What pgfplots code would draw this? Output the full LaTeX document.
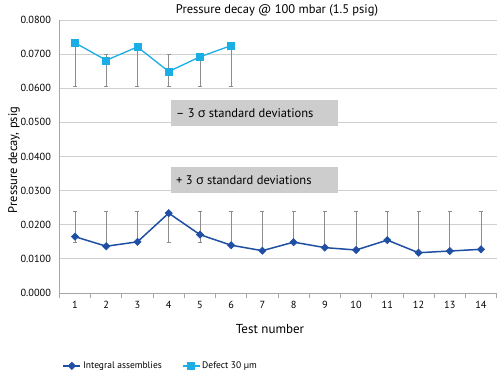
\documentclass[border=0pt]{standalone}
\usepackage{fontspec}
\setmainfont{PT Sans}
\newfontfamily\grk{Open Sans}
\usepackage{pgfplots}
\pgfplotsset{compat=1.18}
\definecolor{intc}{HTML}{1F4FA3}
\definecolor{defc}{HTML}{1AAEE5}
\definecolor{gridc}{HTML}{CFCFCF}
\definecolor{axc}{HTML}{A6A6A6}
\definecolor{errc}{HTML}{8C8C8C}
\definecolor{boxc}{HTML}{CDCDCD}
\pgfplotstableread{
x y ep em
1 0.0165 0.0073 0.0018
2 0.0137 0.0101 0
3 0.0150 0.0088 0
4 0.0234 0.0004 0.0087
5 0.0171 0.0067 0.0023
6 0.0140 0.0098 0
7 0.0124 0.0114 0
8 0.0149 0.0089 0
9 0.0133 0.0105 0
10 0.0126 0.0112 0
11 0.0155 0.0083 0
12 0.0118 0.0120 0
13 0.0123 0.0115 0
14 0.0128 0.0110 0
}\integral
\pgfplotstableread{
x y ep em
1 0.0733 0 0.0127
2 0.0682 0.0018 0.0076
3 0.0721 0 0.0115
4 0.0649 0.0051 0.0043
5 0.0692 0.0008 0.0086
6 0.0725 0 0.0119
}\defect
\begin{document}
\begin{tikzpicture}[x=1pt,y=1pt]
\path[use as bounding box] (0,0) rectangle (500,374);
\begin{axis}[at={(59.4pt,81pt)}, anchor=south west, scale only axis,
  width=437.2pt, height=273pt,
  xmin=0.5, xmax=14.5, ymin=0, ymax=0.08,
  axis x line*=bottom, axis y line*=left,
  axis line style={axc, line width=0.8pt},
  xtick={1,...,14}, major x tick style={draw=none},
  minor xtick={0.5,1.5,...,14.5},
  minor x tick style={axc, line width=0.8pt},
  tick align=outside, minor tick length=5pt, major tick length=5pt,
  ytick={0,0.01,0.02,0.03,0.04,0.05,0.06,0.07,0.08},
  y tick style={draw=none},
  scaled y ticks=false,
  ymajorgrids, grid style={gridc, line width=0.8pt},
  yticklabel style={/pgf/number format/.cd, fixed, fixed zerofill, precision=4, assume math mode=true},
  xticklabel style={/pgf/number format/assume math mode=true},
  tick label style={font=\fontsize{10.3}{12}\selectfont},
  legend style={at={(0,-0.267)}, anchor=west, draw=none, fill=none,
    legend columns=2, font=\fontsize{9.5}{11}\selectfont,
    /tikz/every even column/.append style={column sep=18pt}},
]
\addplot[color=intc, line width=1.5pt, mark=square*, mark size=2.6pt,
  mark options={fill=intc, solid, rotate=45, line width=0.5pt},
  error bars/.cd, y dir=both, y explicit,
  error bar style={errc, line width=0.8pt},
  error mark options={errc, rotate=90, mark size=2pt, line width=0.8pt}]
  table[x=x, y=y, y error plus=ep, y error minus=em] {\integral};
\addlegendentry{Integral assemblies}
\addplot[color=defc, line width=1.3pt, mark=square*, mark size=3.5pt,
  mark options={fill=defc, solid, line width=0.5pt},
  error bars/.cd, y dir=both, y explicit,
  error bar style={errc, line width=0.8pt},
  error mark options={errc, rotate=90, mark size=2pt, line width=0.8pt}]
  table[x=x, y=y, y error plus=ep, y error minus=em] {\defect};
\addlegendentry{Defect 30 µm}
\end{axis}
\fill[boxc] (171,248) rectangle (338,274);
\node[anchor=west, inner sep=0pt, font=\fontsize{12.5}{15}\selectfont] at (176,261) {– 3 {\grk σ} standard deviations};
\fill[boxc] (171,181) rectangle (338,207);
\node[anchor=west, inner sep=0pt, font=\fontsize{12.5}{15}\selectfont] at (176,194) {+ 3 {\grk σ} standard deviations};
\node[font=\fontsize{12.5}{14}\selectfont] at (277,364) {Pressure decay @ 100 mbar (1.5 psig)};
\node[rotate=90, font=\fontsize{12.5}{14}\selectfont] at (14,214) {Pressure decay, psig};
\node[font=\fontsize{13}{15}\selectfont] at (270,45) {Test number};
\end{tikzpicture}
\end{document}
